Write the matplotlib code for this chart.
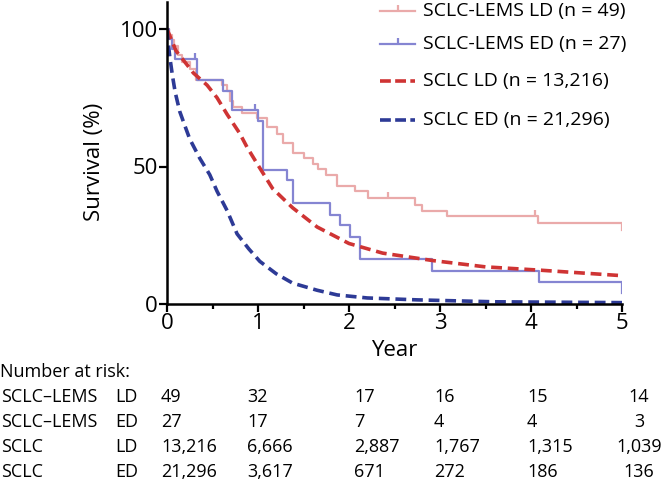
import matplotlib
matplotlib.use("Agg")
import matplotlib.pyplot as plt
from matplotlib.lines import Line2D
from matplotlib.ticker import MultipleLocator

plt.rcParams['font.family'] = ['Open Sans', 'DejaVu Sans']
plt.rcParams['font.size'] = 16

# SCLC-LEMS LD, Kaplan-Meier steps (years, survival %)
lems_ld_t = [0, 0.02, 0.05, 0.08, 0.12, 0.17, 0.25, 0.32, 0.6, 0.66, 0.69, 0.73, 0.82,
             0.99, 1.1, 1.21, 1.27, 1.38, 1.5, 1.6, 1.66, 1.75, 1.87, 2.07, 2.21, 2.73,
             2.8, 3.08, 4.08, 5.0]
lems_ld_s = [100, 98, 96, 94, 90.5, 88, 85.5, 81.5, 79.5, 77.5, 74, 71.5, 69.5,
             67.5, 64.5, 62, 58.5, 55, 53, 51, 49, 47, 43, 41, 38.5, 36,
             34, 32, 29.5, 27]
lems_ld_cens_t = [2.43, 4.04]
lems_ld_cens_s = [38.5, 32]

# SCLC-LEMS ED
lems_ed_t = [0, 0.02, 0.05, 0.09, 0.33, 0.62, 0.71, 1.0, 1.05, 1.32, 1.38, 1.79,
             1.9, 2.01, 2.12, 2.91, 4.09, 5.0]
lems_ed_s = [100, 96.3, 92.6, 89, 81.5, 77.5, 70.4, 66.7, 48.7, 45, 36.7, 32.4,
             28.7, 24.4, 16.4, 12, 8, 4]
lems_ed_cens_t = [0.31, 0.97]
lems_ed_cens_s = [89, 70.4]

# SCLC LD (population curve)
sclc_ld_t = [0, 0.1, 0.22, 0.29, 0.44, 0.55, 0.66, 0.8, 0.88, 1.0, 1.16, 1.38, 1.65,
             2.0, 2.37, 2.92, 3.5, 4.1, 5.0]
sclc_ld_s = [100, 92, 87, 84, 79.6, 75, 69, 62, 57, 50.5, 42, 35, 28,
             22, 18.5, 15.8, 13.5, 12.3, 10.3]

# SCLC ED (population curve)
sclc_ed_t = [0, 0.01, 0.03, 0.06, 0.09, 0.14, 0.2, 0.25, 0.36, 0.47, 0.55, 0.66, 0.77,
             0.9, 1.02, 1.2, 1.38, 1.65, 1.87, 2.2, 2.75, 3.6, 5.0]
sclc_ed_s = [100, 96, 90, 83, 77, 70, 64.5, 60, 53, 47, 41, 34, 25.5,
             20, 15.5, 11, 7.6, 5, 3.3, 2.2, 1.5, 0.8, 0.5]

legend_labels = ['SCLC-LEMS LD (n = 49)', 'SCLC-LEMS ED (n = 27)',
                 'SCLC LD (n = 13,216)', 'SCLC ED (n = 21,296)']

risk_groups = ['SCLC\u2013LEMS', 'SCLC\u2013LEMS', 'SCLC', 'SCLC']
risk_stage = ['LD', 'ED', 'LD', 'ED']
risk_counts = [['49', '32', '17', '16', '15', '14'],
               ['27', '17', '7', '4', '4', '3'],
               ['13,216', '6,666', '2,887', '1,767', '1,315', '1,039'],
               ['21,296', '3,617', '671', '272', '186', '136']]

c_pink = '#EAAAAA'
c_lav = '#8585D2'
c_red = '#CF3434'
c_navy = '#2D3A96'

W, H = 665, 482
fig = plt.figure(figsize=(W / 100, H / 100), dpi=100)
ax = fig.add_axes([167 / W, 1 - 304 / H, 455 / W, 302.5 / H])

tick_marker = [(0, 0), (0, 1)]

ax.step(lems_ld_t, lems_ld_s, where='post', color=c_pink, lw=1.6)
ax.plot(lems_ld_cens_t, lems_ld_cens_s, ls='none', marker=tick_marker,
        ms=8, mew=1.6, mec=c_pink)
ax.step(lems_ed_t, lems_ed_s, where='post', color=c_lav, lw=1.6)
ax.plot(lems_ed_cens_t, lems_ed_cens_s, ls='none', marker=tick_marker,
        ms=8, mew=1.6, mec=c_lav)
ax.plot(sclc_ld_t, sclc_ld_s, color=c_red, lw=2.6, ls=(0, (3, 1.6)))
ax.plot(sclc_ed_t, sclc_ed_s, color=c_navy, lw=2.6, ls=(0, (3, 1.6)))

ax.set_xlim(0, 5)
ax.set_ylim(0, 110)
ax.set_yticks([0, 50, 100])
ax.xaxis.set_major_locator(MultipleLocator(1))
ax.xaxis.set_minor_locator(MultipleLocator(0.5))
for side in ['top', 'right']:
    ax.spines[side].set_visible(False)
for side in ['left', 'bottom']:
    ax.spines[side].set_linewidth(1.8)
ax.tick_params(which='major', length=5.5, width=1.6, labelsize=16, pad=1)
ax.tick_params(which='minor', length=3.5, width=1.6)
ax.set_xlabel('Year', fontsize=16, labelpad=4)
ax.set_ylabel('Survival (%)', fontsize=16)
ax.yaxis.set_label_coords(-0.136, 0.47)

# legend drawn by hand
leg_fs = 14
leg_y = [11, 44, 81, 120]
leg_styles = [dict(color=c_pink, lw=1.6), dict(color=c_lav, lw=1.6),
              dict(color=c_red, lw=2.6, ls=(0, (3, 1.2))),
              dict(color=c_navy, lw=2.6, ls=(0, (3, 1.2)))]
for i, (lab, st) in enumerate(zip(legend_labels, leg_styles)):
    yf = 1 - leg_y[i] / H
    fig.add_artist(Line2D([380 / W, 415 / W], [yf, yf], transform=fig.transFigure, **st))
    if i < 2:
        fig.add_artist(Line2D([397.5 / W], [yf], transform=fig.transFigure, ls='none',
                              marker=tick_marker, ms=8, mew=1.6, mec=st['color']))
    fig.text(423 / W, yf, lab, ha='left', va='center', fontsize=leg_fs)

# number at risk table
tfs = 13
fig.text(0, 1 - 372 / H, 'Number at risk:', ha='left', va='center', fontsize=tfs)
col_x = [161, 247, 354, 434, 527, 639]
for r in range(4):
    yf = 1 - (397 + 25 * r) / H
    fig.text(1 / W, yf, risk_groups[r], ha='left', va='center', fontsize=tfs)
    fig.text(115 / W, yf, risk_stage[r], ha='left', va='center', fontsize=tfs)
    for c, val in enumerate(risk_counts[r]):
        ha = 'center' if c == 5 else 'left'
        fig.text(col_x[c] / W, yf, val, ha=ha, va='center', fontsize=tfs)

fig.savefig('out.png', dpi=100)
